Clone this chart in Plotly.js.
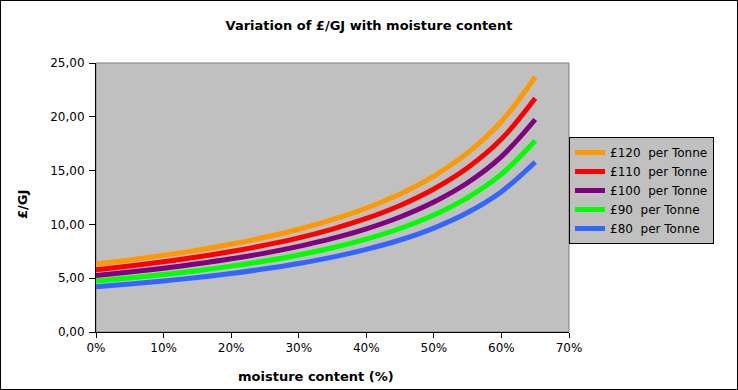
<!DOCTYPE html>
<html><head><meta charset="utf-8">
<script src="https://cdn.plot.ly/plotly-3.0.1.min.js"></script>
<style>body{margin:0;padding:0;background:#fff}#frame{position:absolute;left:0;top:0;width:738px;height:390px;border:1px solid #000;box-sizing:border-box;pointer-events:none}</style>
</head><body>
<div id="chart" style="position:absolute;left:0;top:0;width:738px;height:390px"></div>
<div id="frame"></div>
<script>
const moisture = [0, 0.05, 0.10, 0.15, 0.20, 0.25, 0.30, 0.35, 0.40, 0.45, 0.50, 0.55, 0.60, 0.65];
const seriesNames = ["£120\u00a0 per Tonne", "£110\u00a0 per Tonne", "£100\u00a0 per Tonne", "£90\u00a0 per Tonne", "£80\u00a0 per Tonne"];
const p120 = [6.32, 6.69, 7.12, 7.60, 8.16, 8.80, 9.55, 10.44, 11.51, 12.83, 14.49, 16.65, 19.56, 23.70];
const p110 = [5.79, 6.14, 6.53, 6.97, 7.48, 8.07, 8.75, 9.57, 10.55, 11.76, 13.29, 15.26, 17.93, 21.72];
const p100 = [5.26, 5.58, 5.93, 6.34, 6.80, 7.33, 7.96, 8.70, 9.59, 10.69, 12.08, 13.87, 16.30, 19.75];
const p90  = [4.74, 5.02, 5.34, 5.70, 6.12, 6.60, 7.16, 7.83, 8.63, 9.62, 10.87, 12.49, 14.67, 17.77];
const p80  = [4.21, 4.46, 4.75, 5.07, 5.44, 5.87, 6.37, 6.96, 7.68, 8.55, 9.66, 11.10, 13.04, 15.80];
const colors = ["#ff9900", "#ff0000", "#800080", "#00ff00", "#3366ff"];
const values = [p120, p110, p100, p90, p80];
const titleText = 'Variation of £/GJ with moisture content';
const xTitle = 'moisture content (%)';
const yTitle = '£/GJ';

const traces = values.map((v, i) => ({
  x: moisture, y: v, name: seriesNames[i], type: 'scatter', mode: 'lines',
  line: {color: colors[i], width: 5, shape: 'spline'}
}));

const W = 738, H = 390, L = 96, R = 169, T = 63, B = 58;
const pw = W - L - R, ph = H - T - B;
const px = (x) => (x - L) / pw;
const py = (y) => (H - B - y) / ph;

const layout = {
  width: W, height: H,
  margin: {l: L, r: R, t: T, b: B},
  paper_bgcolor: '#ffffff', plot_bgcolor: '#c0c0c0',
  separators: ',.',
  font: {family: 'DejaVu Sans', size: 12, color: '#000'},
  title: {text: titleText, x: 369 / W, xref: 'container', xanchor: 'center', y: 1 - 25 / H, yref: 'container', yanchor: 'middle',
          font: {family: 'DejaVu Sans', size: 13, weight: 'bold', color: '#000'}},
  xaxis: {range: [0, 0.7], tickvals: [0,0.1,0.2,0.3,0.4,0.5,0.6,0.7], tickformat: '.0%',
          showgrid: false, zeroline: false, showline: true, linecolor: '#000', linewidth: 1,
          ticks: 'outside', ticklen: 5, tickcolor: '#000', tickfont: {size: 12}},
  yaxis: {range: [0, 25], tickvals: [0,5,10,15,20,25], tickformat: '.2f',
          showgrid: false, zeroline: false, showline: true, linecolor: '#000', linewidth: 1,
          ticks: 'outside', ticklen: 6, tickcolor: '#000', tickfont: {size: 12}, ticklabelstandoff: 2},
  legend: {x: 1.0, xanchor: 'left', y: py(137), yanchor: 'top', bgcolor: '#c0c0c0', bordercolor: '#000', borderwidth: 1,
           font: {family: 'DejaVu Sans', size: 12}, itemwidth: 30, tracegroupgap: 0},
  shapes: [{type: 'rect', xref: 'paper', yref: 'paper', x0: 0, x1: 1, y0: 0, y1: 1, line: {color: '#808080', width: 1}, layer: 'below'}],
  annotations: [
    {text: xTitle, xref: 'paper', yref: 'paper', x: px(315.5), y: py(376), xanchor: 'center', yanchor: 'middle', showarrow: false,
     font: {family: 'DejaVu Sans', size: 13, weight: 'bold'}},
    {text: yTitle, xref: 'paper', yref: 'paper', x: px(23), y: py(205), xanchor: 'center', yanchor: 'middle', showarrow: false, textangle: -90,
     font: {family: 'DejaVu Sans', size: 13, weight: 'bold'}}
  ],
  showlegend: true
};
Plotly.newPlot('chart', traces, layout, {staticPlot: true, displayModeBar: false});
</script>
</body></html>
